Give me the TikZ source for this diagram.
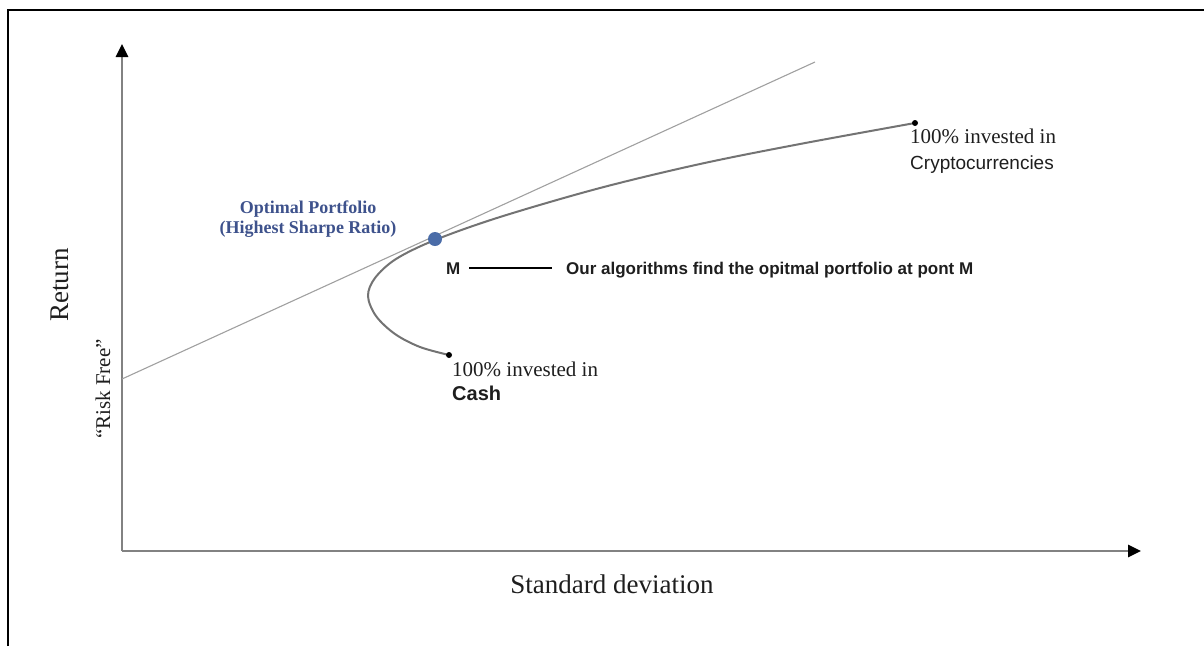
\documentclass[tikz,border=0pt]{standalone}
\usepackage{fontspec}
\setmainfont{Liberation Serif}
\setsansfont{Liberation Sans}
\usetikzlibrary{arrows.meta}
\definecolor{axisgray}{RGB}{130,130,130}
\definecolor{curvegray}{RGB}{115,115,115}
\definecolor{linegray}{RGB}{160,160,160}
\definecolor{optblue}{RGB}{62,82,140}
\definecolor{dotblue}{RGB}{74,108,168}
\definecolor{txt}{RGB}{30,30,30}
\begin{document}
\begin{tikzpicture}[x=1pt,y=-1pt,
  axis/.style={draw=axisgray, line width=2.8pt, -{Triangle[length=13pt,width=12pt,color=black]}},
  frontier/.style={draw=curvegray, line width=2pt},
  tangent/.style={draw=linegray, line width=1.1pt},
  enddot/.style={circle, fill=black, inner sep=0pt, minimum size=6pt},
  optdot/.style={circle, fill=dotblue, inner sep=0pt, minimum size=14pt},
  serlab/.style={inner sep=0pt, text=txt, font=\fontsize{21}{25}\selectfont},
  sanslab/.style={inner sep=0pt, text=txt, font=\sffamily\fontsize{19}{23}\selectfont},
  boldsans/.style={inner sep=0pt, text=txt, font=\sffamily\bfseries\fontsize{17}{20}\selectfont},
  axlab/.style={inner sep=0pt, text=txt, font=\fontsize{27}{32}\selectfont},
  optlab/.style={inner sep=0pt, text=optblue, align=center, font=\bfseries\fontsize{18}{20}\selectfont}
]
\useasboundingbox (0,0) rectangle (1204,646);
% frame
\draw[line width=2.2pt] (8,646) -- (8,10) -- (1204,10);
% coordinates
\coordinate (O) at (122,551);
\coordinate (ytop) at (122,44);
\coordinate (xend) at (1141,551);
\coordinate (rf) at (122,379);
\coordinate (tanend) at (815,62);
% axes
\draw[axis] (O) -- (ytop);
\draw[axis] (O) -- (xend);
% capital market line
\draw[tangent] (rf) -- (tanend);
% efficient frontier
\draw[frontier] plot[smooth, tension=0.55] coordinates {(449,355) (420,347) (395,334) (376,316) (368,296) (375,278) (396,259) (435,240) (500,217) (600,188) (700,164) (800,144) (915,123)};
% points
\node[enddot] (cash) at (449,355) {};
\node[enddot] (crypto) at (915,123) {};
\node[optdot] (opt) at (435,239) {};
% labels
\node[optlab, anchor=south] (optl) at (308,238) {Optimal Portfolio\\(Highest Sharpe Ratio)};
\node[boldsans, anchor=base west] (M) at (446,274) {M};
\node[boldsans, anchor=base west] (algo) at (566,274) {Our algorithms find the opitmal portfolio at pont M};
\coordinate (ls) at (469,268);
\coordinate (le) at (552,268);
\draw[line width=1.1pt, black] (ls) -- (le);
\node[serlab, anchor=base west] (c1) at (910,143) {100\% invested in};
\node[sanslab, anchor=base west] (c2) at (910,169) {Cryptocurrencies};
\node[serlab, anchor=base west] (h1) at (452,376) {100\% invested in};
\node[boldsans, anchor=base west, font=\sffamily\bfseries\fontsize{20}{24}\selectfont] (h2) at (452,400) {Cash};
\node[axlab, anchor=base] (sd) at (612,593) {Standard deviation};
\node[axlab, rotate=90, anchor=base] (ret) at (68,285) {Return};
\node[serlab, rotate=90, anchor=base] (rfl) at (110,389) {``Risk Free''};
\end{tikzpicture}
\end{document}
